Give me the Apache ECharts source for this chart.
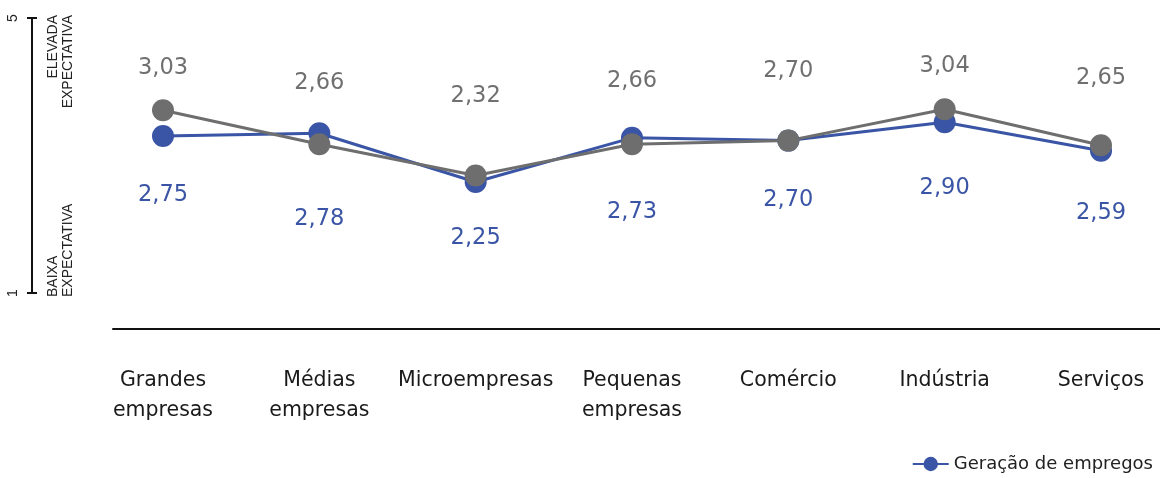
<!DOCTYPE html>
<html>
<head>
<meta charset="utf-8">
<script src="https://cdn.jsdelivr.net/npm/echarts@6/dist/echarts.min.js"></script>
<style>
  html, body { margin: 0; padding: 0; background: #ffffff; }
  #chart { width: 1160px; height: 478px; }
</style>
</head>
<body>
<div id="chart"></div>
<script>
// ---- data ----
var categories = ['Grandes\nempresas', 'Médias\nempresas', 'Microempresas', 'Pequenas\nempresas', 'Comércio', 'Indústria', 'Serviços'];
var empregosValues = [2.75, 2.78, 2.25, 2.73, 2.70, 2.90, 2.59];
var outraValues = [3.03, 2.66, 2.32, 2.66, 2.70, 3.04, 2.65];
var scaleTicks = [1, 5];
var scaleTexts = ['ELEVADA\nEXPECTATIVA', 'BAIXA\nEXPECTATIVA'];
// manual label offsets (vertical, px) as in the reference
var empregosLabelOffsets = [59, 86, 56, 74, 60, 66, 62];
var outraLabelOffsets = [-42, -61, -79, -63, -69, -43, -67];

var BLUE = '#3A55A5';
var GRAY = '#6E6E6E';
var FONT = 'DejaVu Sans';

function fmt(v) { return v.toFixed(2).replace('.', ','); }

function buildData(values, offsets) {
  return values.map(function (v, i) {
    return { value: v, label: { offset: [0, offsets[i]] } };
  });
}

var chart = echarts.init(document.getElementById('chart'), null, { renderer: 'canvas' });

var option = {
  animation: false,
  backgroundColor: '#ffffff',
  grid: [
    { left: 163, right: 59, top: 21, height: 276 },
    { left: 32, width: 10, top: 18, height: 275 },
    { left: 113, right: 0, top: 328, height: 1 }
  ],
  legend: {
    data: ['Geração de empregos'],
    right: 2,
    bottom: 0,
    itemWidth: 36,
    itemHeight: 18,
    itemGap: 6,
    textStyle: { fontFamily: FONT, fontSize: 18, color: '#222222' }
  },
  xAxis: [
    {
      type: 'category',
      gridIndex: 0,
      data: categories,
      boundaryGap: false,
      axisLine: { show: false },
      axisTick: { show: false },
      splitLine: { show: false },
      axisLabel: {
        interval: 0,
        margin: 69,
        verticalAlign: 'top',
        fontFamily: FONT,
        fontSize: 20.5,
        lineHeight: 30,
        color: '#1a1a1a'
      }
    },
    { type: 'value', gridIndex: 1, show: false },
    {
      type: 'value',
      gridIndex: 2,
      position: 'bottom',
      axisLine: { show: true, lineStyle: { color: '#111111', width: 2 } },
      axisTick: { show: false },
      axisLabel: { show: false },
      splitLine: { show: false }
    }
  ],
  yAxis: [
    { type: 'value', gridIndex: 0, min: 1, max: 4, show: false },
    {
      type: 'value',
      gridIndex: 1,
      min: scaleTicks[0],
      max: scaleTicks[1],
      interval: scaleTicks[1] - scaleTicks[0],
      position: 'left',
      axisLine: { show: true, lineStyle: { color: '#111111', width: 2 } },
      axisTick: { show: true, length: 5, lineStyle: { color: '#111111', width: 2 } },
      splitLine: { show: false },
      axisLabel: {
        rotate: 90,
        margin: 12,
        fontFamily: 'Liberation Sans',
        fontSize: 14,
        color: '#222222'
      }
    },
    {
      type: 'value',
      gridIndex: 1,
      min: scaleTicks[0],
      max: scaleTicks[1],
      interval: scaleTicks[1] - scaleTicks[0],
      position: 'left',
      axisLine: { show: false },
      axisTick: { show: true, inside: true, length: 5, lineStyle: { color: '#111111', width: 2 } },
      axisLabel: { show: false },
      splitLine: { show: false }
    },
    { type: 'value', gridIndex: 2, show: false }
  ],
  graphic: [
    {
      type: 'text',
      x: 61,
      y: 15,
      rotation: Math.PI / 2,
      style: {
        text: scaleTexts[0],
        font: '14px "Liberation Sans"',
        fill: '#222222',
        textAlign: 'right',
        textVerticalAlign: 'middle',
        lineHeight: 15
      }
    },
    {
      type: 'text',
      x: 61,
      y: 297,
      rotation: Math.PI / 2,
      style: {
        text: scaleTexts[1],
        font: '14px "Liberation Sans"',
        fill: '#222222',
        textAlign: 'left',
        textVerticalAlign: 'middle',
        lineHeight: 15
      }
    }
  ],
  series: [
    {
      name: 'Geração de empregos',
      type: 'line',
      xAxisIndex: 0,
      yAxisIndex: 0,
      data: buildData(empregosValues, empregosLabelOffsets),
      symbol: 'circle',
      symbolSize: 22,
      itemStyle: { color: BLUE },
      lineStyle: { color: BLUE, width: 3 },
      label: {
        show: true,
        position: 'inside',
        formatter: function (p) { return fmt(p.value); },
        fontFamily: FONT,
        fontSize: 22.5,
        color: BLUE
      },
      z: 2
    },
    {
      name: 'Expectativa',
      type: 'line',
      xAxisIndex: 0,
      yAxisIndex: 0,
      data: buildData(outraValues, outraLabelOffsets),
      symbol: 'circle',
      symbolSize: 22,
      itemStyle: { color: GRAY },
      lineStyle: { color: GRAY, width: 3 },
      label: {
        show: true,
        position: 'inside',
        formatter: function (p) { return fmt(p.value); },
        fontFamily: FONT,
        fontSize: 22.5,
        color: '#707070'
      },
      z: 3
    }
  ]
};

chart.setOption(option);
</script>
</body>
</html>
